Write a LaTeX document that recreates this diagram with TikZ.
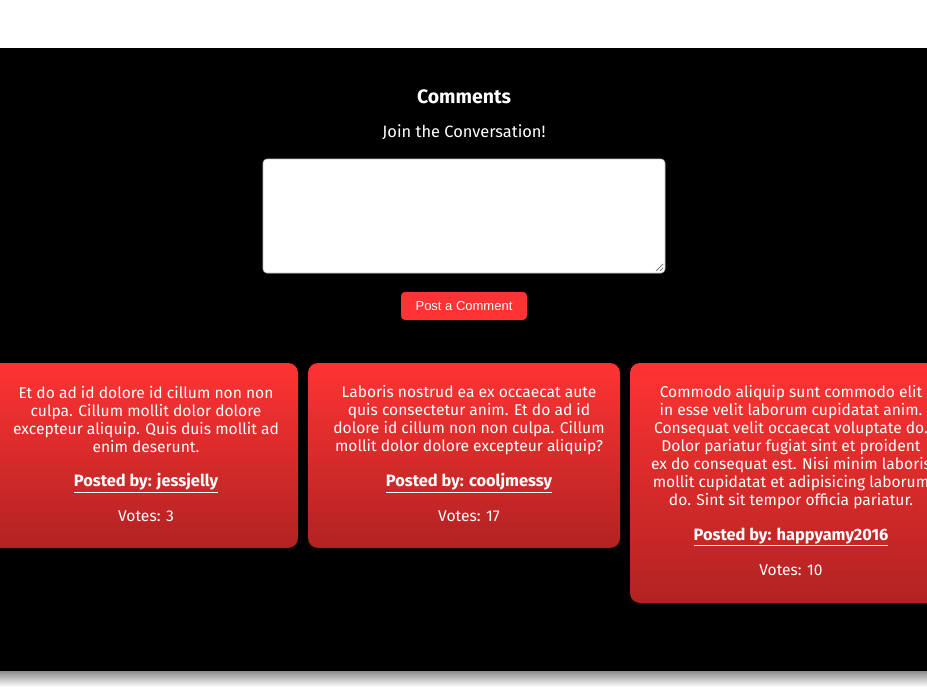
\documentclass[tikz,border=0pt]{standalone}
\usepackage{fontspec}
\setmainfont{Fira Sans}
\newfontfamily\btnfont{Liberation Sans}
\usepackage{tikz}

\definecolor{cardtop}{RGB}{255,51,51}
\definecolor{cardbot}{RGB}{178,34,34}
\definecolor{btnred}{RGB}{255,51,51}
\definecolor{boxline}{RGB}{190,190,190}

\tikzset{
  cardtext/.style={text=white, align=center, inner sep=0.75pt, font=\fontsize{11.7}{13.5}\selectfont},
  cardname/.style={cardtext, font=\fontsize{12.3}{14}\selectfont\bfseries},
  cardshade/.style={top color=cardtop, bottom color=cardbot, rounded corners=7.5pt},
}

\begin{document}
\begin{tikzpicture}[x=0.75pt,y=0.75pt,yscale=-1,xscale=1]
    \useasboundingbox (0,0) rectangle (927,689);
    \clip (0,0) rectangle (927,689);

    %Shape: page background
    \fill [white] (0,0) rectangle (927,689);
    %Shape: shadow under the black band
    \shade [top color=black!45, bottom color=white] (0,671) rectangle (927,687);
    %Shape: black band
    \fill [black] (0,48) rectangle (927,671);

    % Text Node
    \node (title) at (464,97) [text=white, inner sep=0.75pt, font=\fontsize{14.6}{16}\selectfont\bfseries] {Comments};
    % Text Node
    \node (join) at (464,132) [text=white, inner sep=0.75pt, font=\fontsize{12.3}{14}\selectfont] {Join the Conversation!};

    %Shape: text area
    \draw [boxline, fill=white, rounded corners=3pt] (263,159) rectangle (665,273);
    \coordinate (grip) at (663,271);
    \draw [gray, line width=0.6pt] (grip) ++(-7,0) -- ++(7,-7);
    \draw [gray, line width=0.6pt] (grip) ++(-3,0) -- ++(3,-3);

    %Shape: button
    \fill [btnred, rounded corners=3pt] (401,292) rectangle (527,320);
    % Text Node
    \node (postbtn) at (464,306) [text=white, inner sep=0.75pt, font=\btnfont\fontsize{9.75}{11}\selectfont] {Post a Comment};

    %Shape: cards
    \shade [cardshade] (-14,363) rectangle (298,548);
    \shade [cardshade] (308,363) rectangle (620,548);
    \shade [cardshade] (630,363) rectangle (942,603);

    % Text Node
    \node (body1) at (146,420) [cardtext] {Et do ad id dolore id cillum non non\\culpa. Cillum mollit dolor dolore\\excepteur aliquip. Quis duis mollit ad\\enim deserunt.};
    \node (user1) at (146,483) [cardname] {\underline{Posted by: jessjelly}};
    \node (votes1) at (146,516) [cardtext] {Votes: 3};

    % Text Node
    \node (body2) at (469,420) [cardtext] {Laboris nostrud ea ex occaecat aute\\quis consectetur anim. Et do ad id\\dolore id cillum non non culpa. Cillum\\mollit dolor dolore excepteur aliquip?};
    \node (user2) at (469,483) [cardname] {\underline{Posted by: cooljmessy}};
    \node (votes2) at (469,516) [cardtext] {Votes: 17};

    % Text Node
    \node (body3) at (791,447) [cardtext] {Commodo aliquip sunt commodo elit\\in esse velit laborum cupidatat anim.\\Consequat velit occaecat voluptate do.\\Dolor pariatur fugiat sint et proident\\ex do consequat est. Nisi minim laboris\\mollit cupidatat et adipisicing laborum\\do. Sint sit tempor officia pariatur.};
    \node (user3) at (791,537) [cardname] {\underline{Posted by: happyamy2016}};
    \node (votes3) at (791,570) [cardtext] {Votes: 10};

\end{tikzpicture}
\end{document}
